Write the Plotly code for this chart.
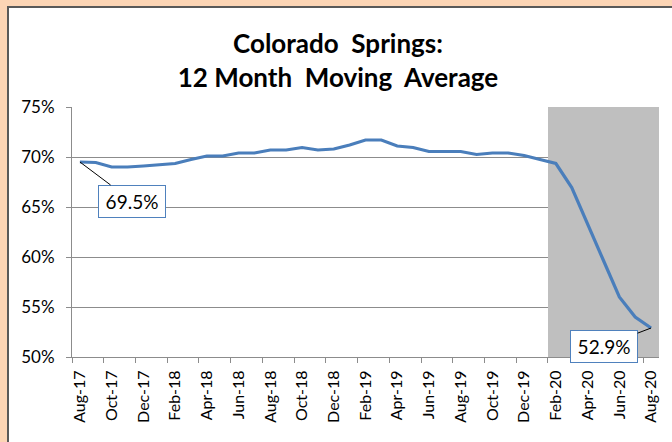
import plotly.graph_objects as go

months = ['Aug-17', 'Sep-17', 'Oct-17', 'Nov-17', 'Dec-17', 'Jan-18', 'Feb-18',
          'Mar-18', 'Apr-18', 'May-18', 'Jun-18', 'Jul-18', 'Aug-18', 'Sep-18',
          'Oct-18', 'Nov-18', 'Dec-18', 'Jan-19', 'Feb-19', 'Mar-19', 'Apr-19',
          'May-19', 'Jun-19', 'Jul-19', 'Aug-19', 'Sep-19', 'Oct-19', 'Nov-19',
          'Dec-19', 'Jan-20', 'Feb-20', 'Mar-20', 'Apr-20', 'May-20', 'Jun-20',
          'Jul-20', 'Aug-20']
moving_avg = [69.5, 69.45, 69.0, 69.0, 69.1, 69.2, 69.35, 69.75, 70.1, 70.1,
              70.4, 70.4, 70.7, 70.7, 70.95, 70.7, 70.8, 71.2, 71.7, 71.7,
              71.1, 70.95, 70.55, 70.55, 70.55, 70.25, 70.4, 70.4, 70.15,
              69.75, 69.35, 66.95, 63.2, 59.65, 56.0, 54.0, 52.9]
shaded_months = ['Feb-20', 'Mar-20', 'Apr-20', 'May-20', 'Jun-20', 'Jul-20', 'Aug-20']
y_ticks = [50, 55, 60, 65, 70, 75]

idx = list(range(len(months)))
shade_idx = [months.index(m) for m in shaded_months]
y_min, y_max = y_ticks[0], y_ticks[-1]

FONT = 'Lato'
GRID = '#8C8C8C'

fig = go.Figure()

# recession shading as bars spanning the full axis height
fig.add_trace(go.Bar(
    x=shade_idx, y=[y_max - y_min] * len(shade_idx), base=y_min,
    width=1, marker=dict(color='#BFBFBF', line_width=0),
    hoverinfo='skip', showlegend=False))

fig.add_trace(go.Scatter(
    x=idx, y=moving_avg, mode='lines',
    line=dict(color='#4A7EBB', width=3.2),
    showlegend=False))

box = dict(font=dict(family=FONT, size=19, color='black'), bgcolor='white',
           bordercolor='#4F81BD', borderwidth=1, width=62, height=27, borderpad=2,
           showarrow=True, arrowhead=0, arrowwidth=1, arrowcolor='black',
           standoff=0, xref='x', yref='y')
fig.add_annotation(x=idx[0], y=moving_avg[0], text=f'{moving_avg[0]:.1f}%',
                   ax=52, ay=39, **box)
fig.add_annotation(x=idx[-1], y=moving_avg[-1], text=f'{moving_avg[-1]:.1f}%',
                   ax=-47, ay=18, **box)

# white chart frame on the peach page
fig.add_shape(type='rect', xref='paper', yref='paper',
              x0=(8 - 72) / 587, x1=1.1, y0=-0.5, y1=1 + 100 / 250,
              fillcolor='white', line=dict(color='#595959', width=2),
              layer='below')

fig.update_layout(
    width=672, height=442,
    paper_bgcolor='#FCD5B5', plot_bgcolor='white',
    margin=dict(l=72, r=13, t=107, b=85),
    bargap=0,
    title=dict(text='<b>Colorado  Springs:</b><br><b>12 Month  Moving  Average</b>',
               x=(338 - 72) / 587, xref='paper', xanchor='center',
               y=1 - 53 / 442, yanchor='middle',
               font=dict(family=FONT, size=26, color='black')),
    font=dict(family=FONT, color='black'),
)

fig.update_xaxes(
    range=[-0.5, len(months) - 0.5],
    tickmode='array', tickvals=idx[::2], ticktext=months[::2],
    tickangle=-90, tickfont=dict(size=16), ticklabelstandoff=6,
    ticks='', showgrid=False,
    showline=True, linecolor=GRID, linewidth=1,
    minor=dict(tickmode='linear', tick0=-0.5, dtick=2, ticks='outside',
               ticklen=5, tickcolor=GRID, showgrid=False),
)
fig.update_yaxes(
    range=[y_min, y_max], tickmode='array', tickvals=y_ticks,
    ticktext=[f'{v}%' for v in y_ticks], tickfont=dict(size=17),
    ticks='outside', ticklen=5, tickcolor=GRID, ticklabelstandoff=8,
    showgrid=True, gridcolor=GRID, gridwidth=1,
    showline=True, linecolor=GRID, linewidth=1,
    zeroline=False,
)

fig.write_html('out.html', config={'displayModeBar': False},
               post_script="document.body.style.margin='0';")
